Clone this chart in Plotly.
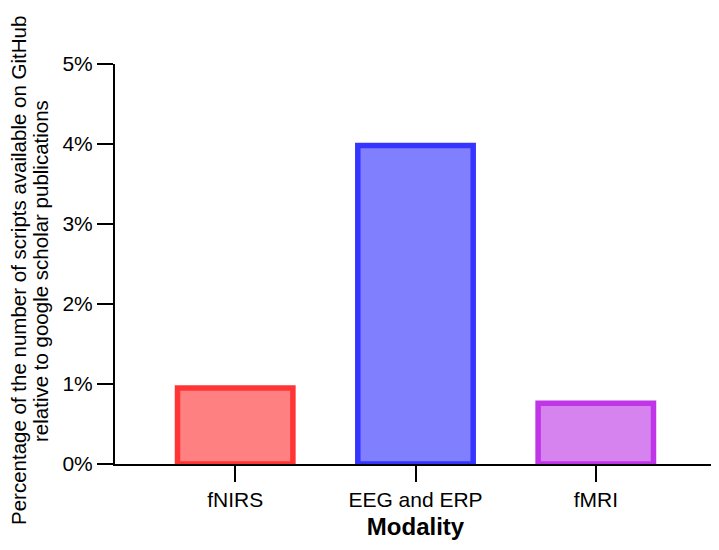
import plotly.graph_objects as go

categories = ["fNIRS", "EEG and ERP", "fMRI"]
values = [0.95, 3.98, 0.76]
fill_colors = ["#FF8080", "#8080FF", "#D683F0"]
line_colors = ["#FF3535", "#3535FF", "#C035E8"]
y_ticks = [0, 1, 2, 3, 4, 5]
y_tick_labels = ["0%", "1%", "2%", "3%", "4%", "5%"]
y_title_lines = ["Percentage of the number of scripts available on GitHub",
                 "relative to google scholar publications"]
x_title = "Modality"

fig = go.Figure()
fig.add_trace(go.Bar(
    x=categories, y=values, width=0.64,
    marker=dict(color=fill_colors, line=dict(color=line_colors, width=5.5)),
))

font = "Liberation Sans, Arial, sans-serif"
fig.update_layout(
    width=711, height=542,
    margin=dict(l=107, r=3, t=56, b=86),
    plot_bgcolor="white", paper_bgcolor="white",
    showlegend=False,
    font=dict(family=font, color="black"),
)
fig.update_xaxes(
    range=[-2/3, 2 + 2/3], automargin=False,
    showline=True, linecolor="black", linewidth=2,
    ticks="outside", ticklen=16, tickwidth=2, tickcolor="black",
    tickfont=dict(size=21, family=font, color="black"),
    title=dict(text="<b>" + x_title + "</b>", font=dict(size=24, family=font, color="black"), standoff=8),
    showgrid=False, zeroline=False,
)
fig.update_yaxes(
    range=[0, 5], automargin=False,
    tickmode="array", tickvals=y_ticks, ticktext=y_tick_labels,
    showline=True, linecolor="black", linewidth=2,
    ticks="outside", ticklen=16, tickwidth=2, tickcolor="black",
    tickfont=dict(size=21, family=font, color="black"),
    showgrid=False, zeroline=False,
)
for line, xs in zip(y_title_lines, [-97, -75]):
    fig.add_annotation(
        text=line, textangle=-90, showarrow=False,
        xref="paper", yref="paper", x=0, y=0.5,
        xanchor="center", yanchor="middle", xshift=xs, yshift=-7,
        font=dict(size=20.5, family=font, color="black"),
    )
fig.write_html("out.html")
